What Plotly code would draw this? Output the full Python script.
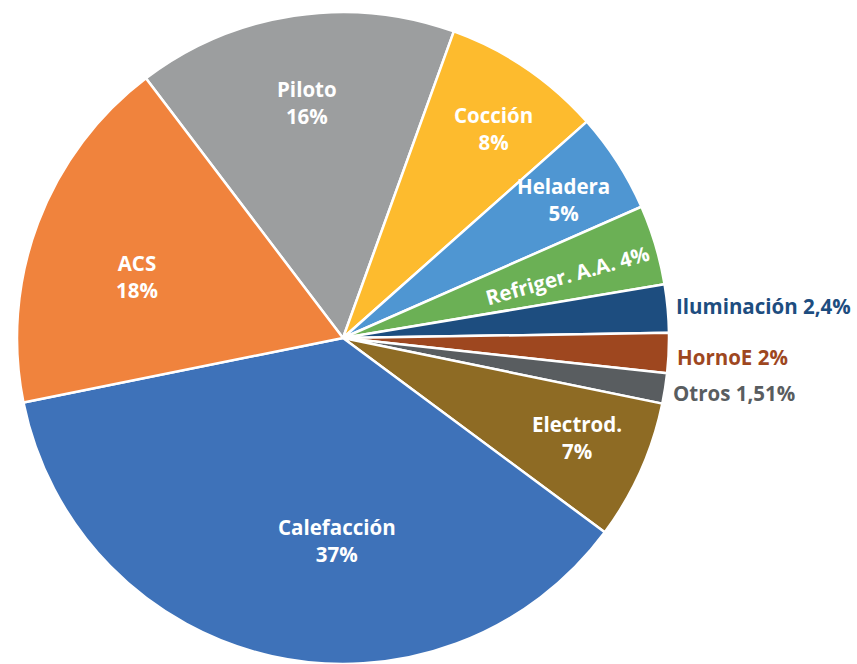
import math
import plotly.graph_objects as go

# Residential energy use by end use (share of total, %)
categories = ["Piloto", "Cocción", "Heladera", "Refriger. A.A.", "Iluminación",
              "HornoE", "Otros", "Electrod.", "Calefacción", "ACS"]
shares = [16, 8, 5, 4, 2.4, 2, 1.51, 7, 37, 18]

# slice styling
colors = ["#9c9e9f", "#fdbb2e", "#4f96d2", "#6bb055", "#1d4d7f",
          "#9e471f", "#595d60", "#8e6b24", "#3e72b9", "#f0833d"]

# label layout per slice: how it is drawn, radial position (fraction of radius)
# and a small angular nudge (degrees) away from the slice's mid-angle
label_mode = ["inside", "inside", "inside", "radial", "outside",
              "outside", "outside", "inside", "inside", "inside"]
label_r = [0.73, 0.79, 0.80, 0.715, 1.0, 1.0, 1.0, 0.78, 0.62, 0.66]
label_dtheta = [0, -1.5, -0.5, -1, 0.4, -0.6, -0.8, 1, 11, 4]

W, H = 857, 664
FONT = "Open Sans"
FONT_SIZE = 20.5
ROTATION = -37.2  # first slice starts this many degrees clockwise from 12 o'clock

# pie box in pixels (left, right, top, bottom)
box_l, box_r, box_t, box_b = 17, 669, 12, 664
domain = dict(x=[box_l / W, box_r / W], y=[(H - box_b) / H, (H - box_t) / H])
cx = (box_l + box_r) / 2
cy = (box_t + box_b) / 2
R = min(box_r - box_l, box_b - box_t) / 2


def pct(v):
    return f"{v:g}".replace(".", ",") + "%"


fig = go.Figure()
fig.add_trace(go.Pie(
    labels=categories,
    values=shares,
    sort=False,
    direction="clockwise",
    rotation=ROTATION,
    domain=domain,
    marker=dict(colors=colors, line=dict(color="white", width=2.5)),
    textinfo="none",
    showlegend=False,
    hoverinfo="label+percent",
))

# slice labels, positioned from the same shares the slices are drawn from
total = sum(shares)
start = 90 - ROTATION  # math angle (deg, counter-clockwise from 3 o'clock)
cum = 0.0
annotations = []
for name, v, col, mode, rf, dth in zip(categories, shares, colors,
                                       label_mode, label_r, label_dtheta):
    a0 = start - 360 * cum / total
    cum += v
    a1 = start - 360 * cum / total
    mid = (a0 + a1) / 2 + dth
    rad = math.radians(mid)
    px = cx + rf * R * math.cos(rad)
    py = cy - rf * R * math.sin(rad)
    font = dict(family=FONT, size=FONT_SIZE, weight="bold", color="white")
    ann = dict(xref="paper", yref="paper", x=px / W, y=1 - py / H,
               showarrow=False, yanchor="middle")
    if mode == "inside":
        ann.update(text=f"{name}<br>{pct(v)}", xanchor="center", font=font)
    elif mode == "radial":
        ann.update(text=f"{name} {pct(v)}", xanchor="center", font=font,
                   textangle=-mid)
    else:
        font["color"] = col
        ann.update(text=f"{name} {pct(v)}", xanchor="left", xshift=7, font=font)
    annotations.append(ann)

fig.update_layout(
    width=W,
    height=H,
    margin=dict(l=0, r=0, t=0, b=0),
    paper_bgcolor="white",
    plot_bgcolor="white",
    annotations=annotations,
)

fig.write_html("out.html")
